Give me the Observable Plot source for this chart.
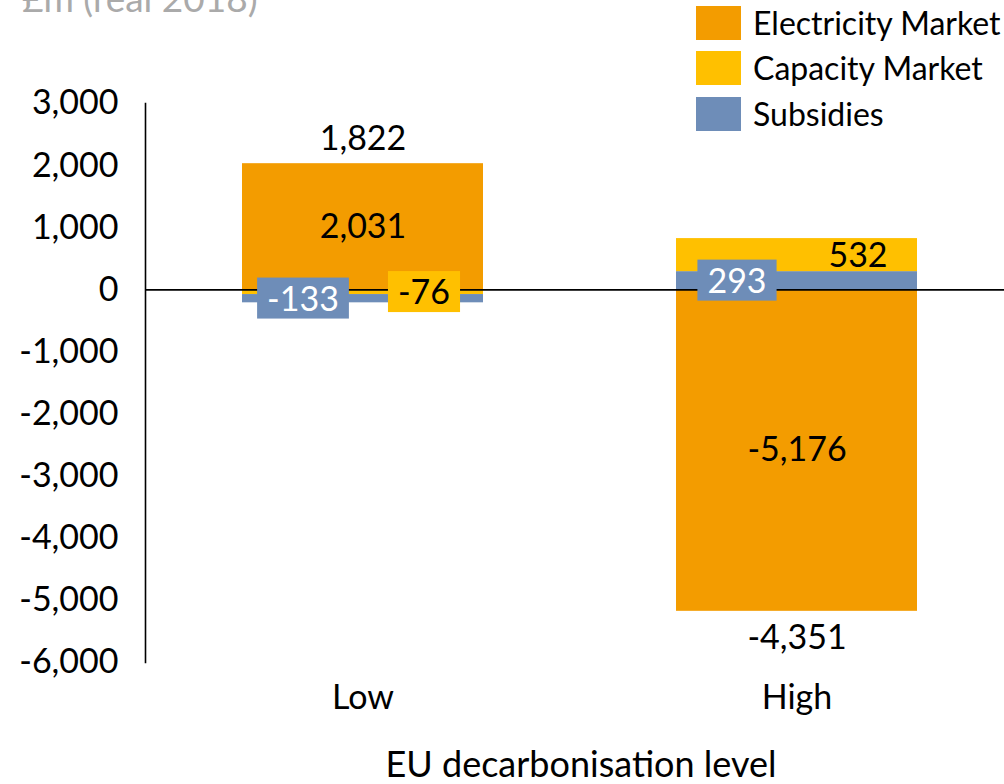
<!DOCTYPE html>
<html>
<head>
<meta charset="utf-8">
<script src="https://cdn.jsdelivr.net/npm/d3@7"></script>
<script src="https://cdn.jsdelivr.net/npm/@observablehq/plot@0.6"></script>
<style>
  html, body { margin: 0; padding: 0; background: #fff; overflow: hidden; }
  #wrap { position: relative; width: 1004px; height: 784px; font-family: Lato, sans-serif; }
  #title { position: absolute; left: 22px; top: -21px; font-size: 37px; line-height: 37px; color: #aaaaaa; white-space: nowrap; }
  .leg { position: absolute; left: 696px; display: flex; align-items: center; font-size: 32px; line-height: 34px; height: 34px; white-space: nowrap; color: #000; }
  .sw { width: 45px; height: 34px; margin-right: 12px; flex: none; }
</style>
</head>
<body>
<div id="wrap">
  <div id="chart"></div>
  <div id="title">£m (real 2018)</div>
  <div id="legend"></div>
</div>
<script>
// ---- data ----
const categories = ["Low", "High"];
const seriesNames = ["Electricity Market", "Capacity Market", "Subsidies"];
const seriesColors = ["#F39C00", "#FFC000", "#6E8DB8"];
const electricity = [2031, -5176];
const capacity = [-76, 532];
const subsidies = [-133, 293];
const totals = [1822, -4351];
const yTicks = [-6000, -5000, -4000, -3000, -2000, -1000, 0, 1000, 2000, 3000];
// stacking order of the segments within each bar
const stackOrder = [
  ["Electricity Market", "Capacity Market", "Subsidies"],
  ["Electricity Market", "Subsidies", "Capacity Market"]
];

const valueOf = {
  "Electricity Market": electricity,
  "Capacity Market": capacity,
  "Subsidies": subsidies
};

const rows = [];
categories.forEach((cat, i) => {
  stackOrder[i].forEach(s => rows.push({cat, series: s, value: valueOf[s][i]}));
});

const totalRows = categories.map((cat, i) => {
  const vals = seriesNames.map(s => valueOf[s][i]);
  const pos = d3.sum(vals.filter(v => v > 0));
  const neg = d3.sum(vals.filter(v => v < 0));
  return {cat, total: totals[i], edge: totals[i] >= 0 ? pos : neg};
});

const loc = d3.formatLocale({decimal: ".", thousands: ",", grouping: [3], currency: ["", ""], minus: "-"});
const fmt = loc.format(",");

const stackOpts = (extra) => Plot.stackY({x: "cat", y: "value", z: "series", ...extra});

const chart = Plot.plot({
  width: 1004,
  height: 784,
  marginTop: 103,
  marginBottom: 122,
  marginLeft: 145,
  marginRight: 0,
  style: {fontFamily: "Lato, sans-serif", fontSize: "34px", color: "#000", background: "#fff"},
  x: {domain: categories, paddingInner: 0.444, paddingOuter: 0.21, align: 0.527, label: null, tickSize: 0, tickPadding: 22},
  y: {domain: [-6000, 3000], ticks: yTicks, tickFormat: fmt, tickSize: 0, tickPadding: 27, label: null},
  color: {domain: seriesNames, range: seriesColors},
  marks: [
    Plot.barY(rows, stackOpts({fill: "series"})),
    Plot.ruleY([0], {stroke: "#000", strokeWidth: 1.6}),
    Plot.frame({anchor: "left", stroke: "#000", strokeWidth: 1.6}),
    Plot.text(rows, stackOpts({text: d => d.series === "Electricity Market" ? fmt(d.value) : null, fill: "#000"})),
    Plot.text(rows, stackOpts({text: d => d.series === "Subsidies" ? fmt(d.value) : null, fill: "#fff", dx: -60, dy: 1})),
    Plot.text(rows, stackOpts({text: d => d.series === "Capacity Market" ? fmt(d.value) : null, fill: "#000", dx: 61, dy: 1})),
    Plot.text(totalRows, {x: "cat", y: "edge", text: d => d.total >= 0 ? fmt(d.total) : null, dy: -25, fill: "#000"}),
    Plot.text(totalRows, {x: "cat", y: "edge", text: d => d.total < 0 ? fmt(d.total) : null, dy: 27, fill: "#000"}),
    Plot.text(["EU decarbonisation level"], {frameAnchor: "bottom", dy: 114, dx: 6, fill: "#000", fontSize: 36})
  ]
});
document.getElementById("chart").appendChild(chart);

// background boxes behind the small-segment labels (subsidies, negative capacity)
const subLabels = new Set(subsidies.map(fmt));
const capLabels = new Set(capacity.filter(v => v < 0).map(fmt));
chart.querySelectorAll("text").forEach(t => {
  const s = t.textContent;
  let color = null;
  if (subLabels.has(s)) color = seriesColors[2];
  else if (capLabels.has(s)) color = seriesColors[1];
  if (!color) return;
  const bb = t.getBBox();
  const r = document.createElementNS("http://www.w3.org/2000/svg", "rect");
  r.setAttribute("x", bb.x - 10);
  r.setAttribute("y", bb.y + 1);
  r.setAttribute("width", bb.width + 20);
  r.setAttribute("height", bb.height);
  r.setAttribute("fill", color);
  const tr = t.getAttribute("transform");
  if (tr) r.setAttribute("transform", tr);
  t.parentNode.insertBefore(r, t);
});

// legend
const legend = document.getElementById("legend");
const legTops = [6, 51, 97];
seriesNames.forEach((s, i) => {
  const d = document.createElement("div");
  d.className = "leg";
  d.style.top = legTops[i] + "px";
  d.innerHTML = `<span class="sw" style="background:${seriesColors[i]}"></span><span>${s}</span>`;
  legend.appendChild(d);
});
</script>
</body>
</html>
